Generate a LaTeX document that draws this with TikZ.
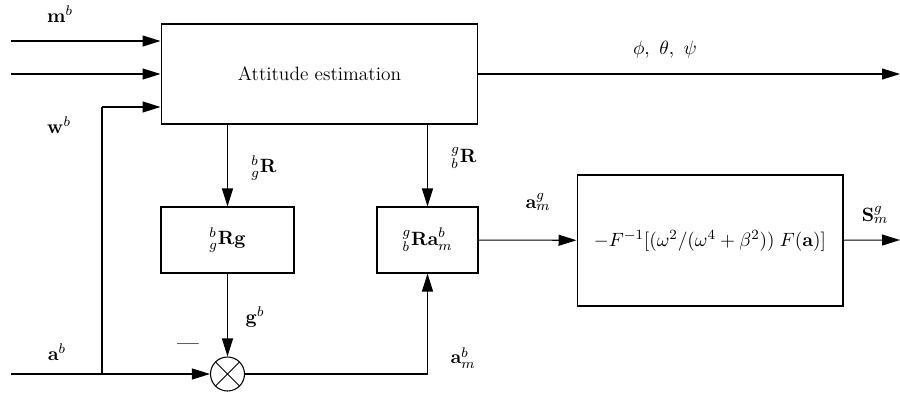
\documentclass[tikz,border=0pt]{standalone}
\usepackage{amsmath,amssymb}
\usepackage{tikz}
\usetikzlibrary{arrows.meta, positioning, calc}

\begin{document}
\begin{tikzpicture}[
    x=0.02cm, y=-0.02cm,
    font=\fontsize{11}{13}\selectfont,
    block/.style={rectangle, draw, line width=0.6pt, inner sep=2pt, align=center},
    summer/.style={circle, draw, line width=0.6pt, minimum size=0.68cm, inner sep=0pt,
        path picture={\draw[line width=0.6pt] (path picture bounding box.north west) -- (path picture bounding box.south east)
            (path picture bounding box.north east) -- (path picture bounding box.south west);}},
    arrow/.style={-{Triangle[length=3.6mm, width=2.2mm]}, line width=0.6pt},
    wire/.style={line width=0.6pt},
    lbl/.style={inner sep=1pt},
]
    \useasboundingbox (0,0) rectangle (900,395);

    % Blocks
    \node[block, minimum width=6.34cm, minimum height=2cm] (att) at (319.5,74) {Attitude estimation};
    \node[block, minimum width=2.66cm, minimum height=1.32cm] (rg) at (227.5,240) {${}^{b}_{g}\mathbf{Rg}$};
    \node[block, minimum width=2.02cm, minimum height=1.32cm] (ra) at (427.5,240) {${}^{g}_{b}\mathbf{Ra}^{b}_{m}$};
    \node[block, minimum width=5.32cm, minimum height=2.62cm] (filt) at (710,240.5)
        {$-F^{-1}[(\omega^2/(\omega^4+\beta^2))\;F(\mathbf{a})]$};
    \node[summer] (sum) at (227.5,374) {};

    % Free ends
    \coordinate (min) at (11,41);
    \coordinate (win) at (11,74);
    \coordinate (ain) at (11,374);
    \coordinate (split) at (102,374);
    \coordinate (wjoin) at (102,107);
    \coordinate (angout) at (900,74);
    \coordinate (sout) at (900,240);

    % Inputs
    \draw[arrow] (min) -- (min -| att.west);
    \draw[arrow] (win) -- (att);
    \draw[wire] (split) -- (wjoin);
    \draw[arrow] (wjoin) -- (wjoin -| att.west);
    \draw[arrow] (ain) -- (sum);

    % Rotations
    \draw[arrow] (att.south -| rg) -- (rg);
    \draw[arrow] (att.south -| ra) -- (ra);
    \draw[arrow] (rg) -- (sum);
    \draw[arrow] (sum) -| (ra);
    \draw[arrow] (ra) -- (filt);

    % Outputs
    \draw[arrow] (att) -- (angout);
    \draw[arrow] (filt) -- (sout);

    % Labels
    \node[lbl] (lm) at (60,14) {$\mathbf{m}^{b}$};
    \node[lbl] (lw) at (59,125) {$\mathbf{w}^{b}$};
    \node[lbl] (la) at (57,352) {$\mathbf{a}^{b}$};
    \node[lbl] (lang) at (665,50) {$\phi,\ \theta,\ \psi$};
    \node[lbl] (lrbg) at (264,168) {${}^{b}_{g}\mathbf{R}$};
    \node[lbl] (lrgb) at (464,158) {${}^{g}_{b}\mathbf{R}$};
    \node[lbl] (lg) at (255,317) {$\mathbf{g}^{b}$};
    \node[lbl] (lminus) at (188,347) {\textbf{---}};
    \node[lbl] (lam) at (463,358) {$\mathbf{a}^{b}_{m}$};
    \node[lbl] (lag) at (538,202) {$\mathbf{a}^{g}_{m}$};
    \node[lbl] (ls) at (875,215) {$\mathbf{S}^{g}_{m}$};

\end{tikzpicture}
\end{document}
